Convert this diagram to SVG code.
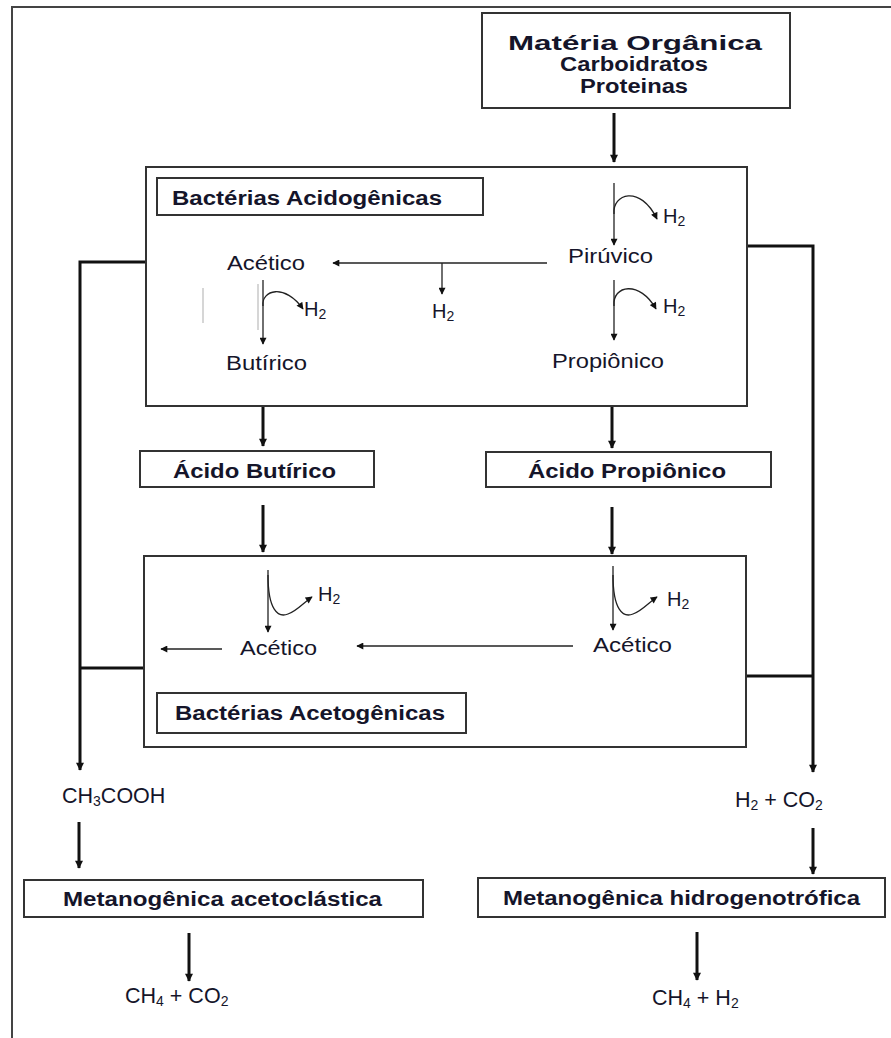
<svg xmlns="http://www.w3.org/2000/svg" width="891" height="1038" viewBox="0 0 891 1038">
<style>
.t{font-family:"Liberation Sans",Arial,sans-serif;fill:#15152a;font-size:20px}
.b{font-weight:bold}
.f{font-size:21.5px}
.box{fill:#fff;stroke:#333;stroke-width:2}
.thick{stroke:#111;stroke-width:3;fill:none}
.thin{stroke:#222;stroke-width:1.3;fill:none}
.faint{stroke:#bbb;stroke-width:1.2;fill:none}
</style>
<defs>
<marker id="ah" viewBox="0 0 10 10" refX="9" refY="5" markerUnits="userSpaceOnUse" markerWidth="9" markerHeight="8" orient="auto">
<path d="M0,0 L10,5 L0,10 z" fill="#111"/>
</marker>
<marker id="as" viewBox="0 0 10 10" refX="9" refY="5" markerUnits="userSpaceOnUse" markerWidth="8" markerHeight="7" orient="auto">
<path d="M0,0 L10,5 L0,10 z" fill="#111"/>
</marker>
</defs>
<rect width="891" height="1038" fill="#fff"/>
<g id="frame">
<path d="M12,1038 V7 H891" fill="none" stroke="#444" stroke-width="2"/>
</g>

<g id="connectors">
<line class="thick" x1="614" y1="113" x2="614" y2="162" marker-end="url(#ah)"/>
<path class="thick" d="M146,262 H80 V770" marker-end="url(#ah)"/>
<line class="thick" x1="80" y1="668" x2="144" y2="668"/>
<path class="thick" d="M747,246 H813 V772" marker-end="url(#ah)"/>
<line class="thick" x1="746" y1="676" x2="813" y2="676"/>
<line class="thick" x1="263" y1="406" x2="263" y2="446" marker-end="url(#ah)"/>
<line class="thick" x1="612" y1="406" x2="612" y2="448" marker-end="url(#ah)"/>
<line class="thick" x1="263" y1="505" x2="263" y2="552" marker-end="url(#ah)"/>
<line class="thick" x1="612" y1="507" x2="612" y2="554" marker-end="url(#ah)"/>
<line class="thick" x1="79" y1="822" x2="79" y2="868" marker-end="url(#ah)"/>
<line class="thick" x1="813" y1="828" x2="813" y2="874" marker-end="url(#ah)"/>
<line class="thick" x1="189" y1="933" x2="189" y2="981" marker-end="url(#ah)"/>
<line class="thick" x1="697" y1="932" x2="697" y2="980" marker-end="url(#ah)"/>
</g>

<g id="materia-organica">
<rect class="box" x="482" y="13" width="308" height="95"/>
<text class="t b" x="635" y="50" font-size="28" text-anchor="middle" textLength="254" lengthAdjust="spacingAndGlyphs">Matéria Orgânica</text>
<text class="t b" x="634" y="71" font-size="17" text-anchor="middle" textLength="148" lengthAdjust="spacingAndGlyphs">Carboidratos</text>
<text class="t b" x="634" y="93" font-size="17" text-anchor="middle" textLength="108" lengthAdjust="spacingAndGlyphs">Proteinas</text>
</g>

<g id="acidogenica">
<rect class="box" x="146" y="167" width="601" height="239"/>
<rect class="box" x="157" y="178" width="326" height="37"/>
<text class="t b" x="172" y="205" textLength="270" lengthAdjust="spacingAndGlyphs">Bactérias Acidogênicas</text>
<line class="thin" x1="614" y1="183" x2="614" y2="245" marker-end="url(#as)"/>
<path class="thin" d="M614,214 C612,194 640,184 657,219" marker-end="url(#as)"/>
<text class="t" x="663" y="223">H<tspan font-size="14" dy="3">2</tspan></text>
<text class="t" x="568" y="263" textLength="85" lengthAdjust="spacingAndGlyphs">Pirúvico</text>
<line class="thin" x1="547" y1="263" x2="333" y2="263" stroke="#444" marker-end="url(#as)"/>
<line class="thin" x1="442" y1="263" x2="442" y2="294" marker-end="url(#as)"/>
<text class="t" x="432" y="318">H<tspan font-size="14" dy="3">2</tspan></text>
<text class="t" x="227" y="270" textLength="78" lengthAdjust="spacingAndGlyphs">Acético</text>
<line class="faint" x1="203" y1="288" x2="203" y2="323"/>
<line class="faint" x1="258" y1="284" x2="258" y2="330"/>
<line class="thin" x1="263" y1="280" x2="263" y2="344" marker-end="url(#as)"/>
<path class="thin" d="M263,306 C261,290 285,283 303,309" marker-end="url(#as)"/>
<text class="t" x="304" y="316">H<tspan font-size="14" dy="3">2</tspan></text>
<text class="t" x="226" y="370" textLength="81" lengthAdjust="spacingAndGlyphs">Butírico</text>
<line class="thin" x1="614" y1="280" x2="614" y2="340" marker-end="url(#as)"/>
<path class="thin" d="M614,306 C612,285 640,280 656,309" marker-end="url(#as)"/>
<text class="t" x="663" y="313">H<tspan font-size="14" dy="3">2</tspan></text>
<text class="t" x="552" y="368" textLength="112" lengthAdjust="spacingAndGlyphs">Propiônico</text>
</g>

<g id="acido-butirico">
<rect class="box" x="140" y="451" width="234" height="36"/>
<text class="t b" x="173" y="478" font-size="20" textLength="163" lengthAdjust="spacingAndGlyphs">Ácido Butírico</text>
</g>
<g id="acido-propionico">
<rect class="box" x="486" y="452" width="285" height="35"/>
<text class="t b" x="528" y="478" font-size="20" textLength="198" lengthAdjust="spacingAndGlyphs">Ácido Propiônico</text>
</g>

<g id="acetogenica">
<rect class="box" x="144" y="556" width="602" height="191"/>
<line class="thin" x1="268" y1="570" x2="268" y2="632" marker-end="url(#as)"/>
<path class="thin" d="M268,575 C268,610 278,618 288,614 C297,611 303,603 312,597" marker-end="url(#as)"/>
<text class="t" x="318" y="601">H<tspan font-size="14" dy="3">2</tspan></text>
<text class="t" x="240" y="655" textLength="77" lengthAdjust="spacingAndGlyphs">Acético</text>
<line class="thin" x1="222" y1="649" x2="161" y2="649" marker-end="url(#as)"/>
<line class="thin" x1="613" y1="566" x2="613" y2="630" marker-end="url(#as)"/>
<path class="thin" d="M613,575 C613,610 623,618 633,614 C642,611 648,603 657,597" marker-end="url(#as)"/>
<text class="t" x="667" y="606">H<tspan font-size="14" dy="3">2</tspan></text>
<text class="t" x="593" y="652" textLength="79" lengthAdjust="spacingAndGlyphs">Acético</text>
<line class="thin" x1="573" y1="646" x2="357" y2="646" marker-end="url(#as)"/>
<rect class="box" x="157" y="693" width="309" height="40"/>
<text class="t b" x="175" y="720" textLength="270" lengthAdjust="spacingAndGlyphs">Bactérias Acetogênicas</text>
</g>

<g id="ch3cooh">
<text class="t f" x="62" y="803">CH<tspan font-size="14" dy="3">3</tspan><tspan dy="-3">COOH</tspan></text>
</g>
<g id="h2co2">
<text class="t f" x="735" y="807">H<tspan font-size="14" dy="3">2</tspan><tspan dy="-3"> + CO</tspan><tspan font-size="14" dy="3">2</tspan></text>
</g>
<g id="metanogenica-acetoclastica">
<rect class="box" x="24" y="880" width="399" height="37"/>
<text class="t b" x="63" y="906" font-size="19" textLength="319" lengthAdjust="spacingAndGlyphs">Metanogênica acetoclástica</text>
</g>
<g id="metanogenica-hidrogenotrofica">
<rect class="box" x="478" y="878" width="407" height="39"/>
<text class="t b" x="503" y="905" font-size="19" textLength="357" lengthAdjust="spacingAndGlyphs">Metanogênica hidrogenotrófica</text>
</g>
<g id="ch4co2">
<text class="t f" x="125" y="1003">CH<tspan font-size="14" dy="3">4</tspan><tspan dy="-3"> + CO</tspan><tspan font-size="14" dy="3">2</tspan></text>
</g>
<g id="ch4h2">
<text class="t f" x="652" y="1005">CH<tspan font-size="14" dy="3">4</tspan><tspan dy="-3"> + H</tspan><tspan font-size="14" dy="3">2</tspan></text>
</g>
</svg>
